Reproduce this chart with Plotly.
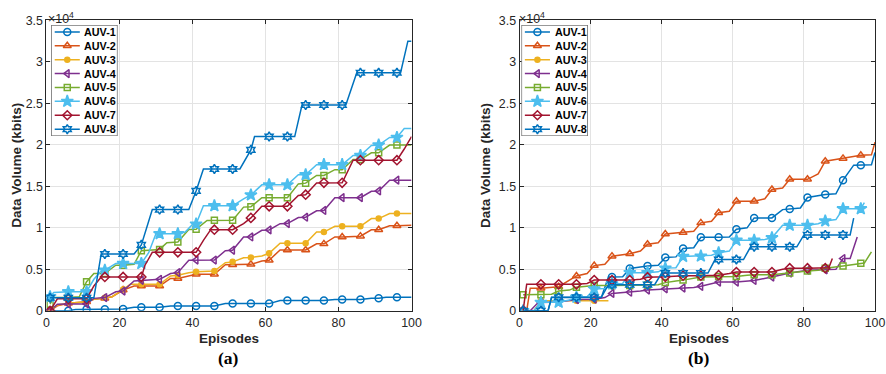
import plotly.graph_objects as go

# ---------------- tick labels ----------------
x_tickvals = [0, 20, 40, 60, 80, 100]
y_tickvals = [0, 5000, 10000, 15000, 20000, 25000, 30000, 35000]
y_ticktext = ["0", "0.5", "1", "1.5", "2", "2.5", "3", "3.5"]

auv_names = ["AUV-1", "AUV-2", "AUV-3", "AUV-4", "AUV-5", "AUV-6", "AUV-7", "AUV-8"]
auv_colors = ["#0072BD", "#D95319", "#EDB120", "#7E2F8E", "#77AC30", "#4DBEEE", "#A2142F", "#0072BD"]
auv_symbols = ["circle-open", "triangle-up-open", "circle", "triangle-left-open",
               "square-open", "star", "diamond-open", "hexagram-open"]
auv_msizes = [7, 7, 5, 7, 6, 9, 7, 7]

# ---------------- panel (a) data: episode, data volume (kbits) ----------------
a1_x = [1, 6, 8, 11, 16, 21, 24, 26, 31, 34, 36, 41, 46, 49, 51, 56, 61, 64, 66, 71, 76, 79, 81, 86, 89, 91, 93, 96, 100]
a1_y = [0, 0, 170, 180, 200, 230, 420, 430, 430, 590, 590, 590, 590, 870, 870, 870, 870, 1240, 1240, 1240, 1240, 1360, 1360, 1360, 1520, 1520, 1650, 1650, 1650]

a2_x = [1, 3, 6, 11, 13, 16, 18, 21, 24, 26, 31, 34, 36, 41, 46, 49, 51, 56, 59, 61, 64, 66, 71, 74, 76, 79, 81, 86, 89, 91, 94, 96, 100]
a2_y = [0, 600, 900, 1100, 1400, 1500, 1700, 2500, 3000, 3000, 3000, 3900, 3900, 4400, 4400, 5550, 5550, 5600, 6000, 6100, 7340, 7340, 7340, 8070, 8070, 8900, 8900, 9000, 9770, 9770, 10260, 10260, 10300]

a3_x = [1, 3, 6, 11, 13, 16, 18, 21, 23, 26, 31, 34, 36, 39, 41, 46, 49, 51, 54, 56, 59, 61, 64, 66, 71, 74, 76, 79, 81, 86, 89, 91, 94, 96, 100]
a3_y = [0, 700, 900, 1100, 1400, 1560, 1700, 2580, 3190, 3190, 3190, 4200, 4300, 4600, 4700, 4800, 5800, 5900, 6400, 6440, 6600, 6930, 8150, 8150, 8150, 9490, 9490, 10180, 10180, 10180, 11120, 11120, 11730, 11730, 11730]

a4_x = [1, 3, 6, 11, 13, 16, 19, 21, 24, 26, 31, 34, 36, 39, 41, 46, 49, 51, 54, 56, 59, 61, 64, 66, 69, 71, 74, 76, 79, 81, 86, 89, 91, 94, 96, 100]
a4_y = [0, 800, 830, 830, 1500, 1600, 2300, 2380, 3600, 3680, 3800, 4500, 4600, 6100, 6120, 6120, 7250, 7300, 8900, 8900, 9700, 9750, 10500, 10510, 11250, 11280, 12050, 12100, 13640, 13640, 13640, 14400, 14450, 15750, 15750, 15750]

a5_x = [1, 2, 6, 9, 11, 13, 16, 19, 21, 24, 26, 31, 33, 36, 39, 41, 44, 46, 51, 54, 56, 59, 61, 66, 69, 71, 74, 76, 79, 81, 84, 86, 89, 91, 94, 96, 100]
a5_y = [800, 1600, 1600, 1700, 3500, 4500, 4500, 5500, 5500, 5600, 7250, 7400, 8200, 8300, 9800, 9830, 10900, 10910, 10910, 12500, 12540, 13640, 13640, 13640, 15300, 15390, 16320, 16320, 17010, 17010, 18230, 18230, 19040, 19040, 19980, 19980, 19980]

a6_x = [1, 2, 6, 11, 13, 15, 16, 19, 21, 26, 28, 30, 31, 36, 38, 40, 41, 43, 46, 51, 54, 56, 59, 61, 66, 69, 71, 74, 76, 81, 84, 86, 89, 91, 94, 96, 98, 100]
a6_y = [1700, 2200, 2300, 2300, 3800, 4800, 4900, 5700, 5700, 5700, 7000, 9290, 9290, 9290, 9500, 10400, 10450, 12660, 12660, 12660, 13500, 13960, 15180, 15180, 15180, 16400, 16400, 17620, 17620, 17620, 18720, 18720, 19940, 19980, 20900, 20900, 21970, 21970]

a7_x = [1, 3, 6, 11, 13, 15, 16, 21, 26, 27, 29, 31, 36, 41, 43, 45, 46, 51, 54, 56, 59, 61, 66, 69, 71, 74, 76, 81, 84, 86, 91, 96, 98, 100]
a7_y = [0, 1440, 1440, 1440, 3000, 4080, 4080, 4080, 4080, 5500, 7050, 7050, 7050, 7050, 8500, 9780, 9780, 9780, 10500, 11200, 12600, 12600, 12600, 13900, 14000, 15400, 15430, 15430, 18150, 18150, 18150, 18150, 19500, 21000]

a8_x = [1, 6, 11, 13, 15, 16, 21, 24, 26, 29, 31, 36, 39, 41, 43, 46, 51, 53, 56, 57, 61, 66, 68, 70, 71, 76, 81, 82, 85, 86, 91, 96, 97, 99, 100]
a8_y = [1570, 1570, 1570, 1570, 6850, 6850, 6850, 6850, 7950, 12200, 12200, 12200, 12200, 14450, 17100, 17100, 17100, 17100, 19400, 21000, 21000, 21000, 21000, 24800, 24800, 24800, 24800, 24800, 28700, 28700, 28700, 28700, 28700, 32500, 32500]

# ---------------- panel (b) data ----------------
b1_x = [1, 6, 8, 9, 11, 16, 21, 23, 25, 26, 29, 31, 36, 39, 41, 44, 46, 49, 51, 56, 59, 61, 64, 66, 71, 74, 76, 79, 81, 86, 89, 91, 94, 96, 99, 100]
b1_y = [0, 0, 0, 1600, 1600, 1600, 1600, 1600, 4070, 4070, 4100, 5100, 5410, 5500, 6420, 6500, 7520, 7600, 8860, 8860, 8900, 9840, 10000, 11200, 11200, 12200, 12280, 12400, 13660, 14020, 14100, 15750, 17560, 17560, 17600, 19100]

b2_x = [1, 2, 3, 6, 11, 14, 16, 19, 21, 24, 26, 31, 34, 36, 39, 41, 46, 49, 51, 54, 56, 59, 61, 66, 69, 71, 74, 76, 81, 84, 86, 91, 96, 99, 100]
b2_y = [0, 0, 2720, 2720, 2900, 3700, 4200, 4500, 5450, 5600, 6590, 6870, 7200, 8030, 8200, 9250, 9430, 9600, 10600, 10800, 11830, 12000, 13210, 13210, 13500, 14630, 14800, 15850, 15850, 16500, 18030, 18370, 18740, 18800, 20330]

b3_x = [1, 4, 6, 11, 16, 21, 25]
b3_y = [0, 0, 1220, 1220, 1220, 1220, 1220]

b4_x = [1, 3, 5, 6, 11, 14, 16, 21, 24, 26, 31, 34, 36, 41, 46, 49, 51, 54, 56, 61, 64, 66, 71, 76, 81, 86, 89, 91, 93, 95]
b4_y = [0, 0, 900, 1000, 1050, 1200, 1350, 1400, 1600, 2100, 2240, 2400, 2500, 2650, 2750, 2800, 2950, 3300, 3460, 3460, 3600, 3660, 4070, 4550, 4880, 4950, 5000, 6300, 6300, 8900]

b5_x = [1, 6, 9, 11, 14, 16, 21, 26, 31, 36, 39, 41, 44, 46, 51, 54, 56, 61, 64, 66, 71, 74, 76, 81, 84, 86, 91, 96, 97, 99]
b5_y = [1950, 1950, 2000, 2380, 2500, 2850, 3050, 3050, 3050, 3100, 3150, 3400, 3600, 3700, 4070, 4100, 4150, 4150, 4300, 4350, 4350, 4500, 4550, 4800, 4900, 5120, 5390, 5730, 5750, 7110]

b6_x = [1, 4, 6, 11, 14, 16, 19, 21, 24, 26, 29, 31, 36, 39, 41, 44, 46, 51, 54, 56, 59, 61, 66, 69, 71, 74, 76, 81, 84, 86, 89, 91, 96, 97]
b6_y = [0, 0, 1020, 1020, 1300, 1630, 1700, 2640, 2700, 3250, 3300, 4600, 4600, 4700, 5150, 5200, 6550, 6590, 6700, 7010, 7200, 8500, 8500, 8600, 8800, 10300, 10300, 10300, 10500, 10830, 11000, 12300, 12300, 13050]

b7_x = [1, 2, 6, 11, 16, 19, 21, 26, 31, 34, 36, 41, 44, 46, 51, 54, 56, 59, 61, 66, 71, 74, 76, 81, 86, 87, 88]
b7_y = [0, 3200, 3200, 3200, 3200, 3300, 3700, 3700, 3700, 3800, 4050, 4100, 4200, 4230, 4230, 4300, 4300, 4500, 4670, 4670, 4670, 5000, 5140, 5140, 5140, 5200, 6300]

b8_x = [1, 6, 8, 9, 11, 16, 21, 23, 25, 26, 31, 36, 38, 40, 41, 46, 51, 53, 55, 56, 61, 63, 65, 66, 71, 76, 78, 80, 81, 86, 91, 93, 94]
b8_y = [0, 0, 0, 1630, 1630, 1630, 1630, 1630, 3150, 3150, 3150, 3150, 3150, 4550, 4550, 4550, 4550, 4550, 6180, 6180, 6180, 6180, 7720, 7720, 7720, 7720, 7720, 9150, 9150, 9150, 9150, 9150, 11180]

panel_a = [(a1_x, a1_y), (a2_x, a2_y), (a3_x, a3_y), (a4_x, a4_y),
           (a5_x, a5_y), (a6_x, a6_y), (a7_x, a7_y), (a8_x, a8_y)]
panel_b = [(b1_x, b1_y), (b2_x, b2_y), (b3_x, b3_y), (b4_x, b4_y),
           (b5_x, b5_y), (b6_x, b6_y), (b7_x, b7_y), (b8_x, b8_y)]

FONT = "Liberation Sans, Arial, Helvetica, sans-serif"
SERIF = "Liberation Serif, Times New Roman, serif"
AX = "#262626"
W, H = 886, 374


# layout placement helpers: target picture pixel -> page pixel (compensates the capture framing)
def px(v):
    return min(max((v - 2.6) / 0.985, 0), W - 1)


def py(v):
    return min(max((v - 9.2) / 0.953, 0), H)


def fx(v):
    return px(v) / W


def fy(v):
    return 1 - py(v) / H


fig = go.Figure()


def add_panel(panel, xref, yref):
    for i, (xs, ys) in enumerate(panel):
        marker_idx = [k for k, v in enumerate(xs) if (v - 1) % 5 == 0]
        fig.add_trace(go.Scatter(
            x=xs, y=ys, mode="lines+markers", name=auv_names[i], showlegend=False,
            xaxis=xref, yaxis=yref,
            line=dict(color=auv_colors[i], width=1.5),
            marker=dict(symbol=auv_symbols[i], size=auv_msizes[i], color=auv_colors[i],
                        line=dict(color=auv_colors[i], width=1.5)),
            selectedpoints=marker_idx,
            selected=dict(marker=dict(opacity=1)),
            unselected=dict(marker=dict(opacity=0)),
            hoverinfo="skip",
        ))


add_panel(panel_a, "x", "y")
add_panel(panel_b, "x2", "y2")

# ---------------- legend boxes (MATLAB-style, compact rows) ----------------
legend_boxes = [("x3", "y3"), ("x4", "y4")]
annotations = []
for xa, ya in legend_boxes:
    fig.add_trace(go.Scatter(
        x=[0, 1, 1, 0, 0], y=[-0.5, -0.5, 7.5, 7.5, -0.5], mode="lines", fill="toself",
        fillcolor="white", line=dict(color=AX, width=1), showlegend=False, hoverinfo="skip",
        xaxis=xa, yaxis=ya, cliponaxis=False,
    ))
    for i, name in enumerate(auv_names):
        fig.add_trace(go.Scatter(
            x=[0.05, 0.24, 0.43], y=[i, i, i], mode="lines+markers", showlegend=False,
            xaxis=xa, yaxis=ya, hoverinfo="skip",
            line=dict(color=auv_colors[i], width=1.5),
            marker=dict(symbol=auv_symbols[i], size=auv_msizes[i], color=auv_colors[i],
                        line=dict(color=auv_colors[i], width=1.5)),
            selectedpoints=[1], selected=dict(marker=dict(opacity=1)),
            unselected=dict(marker=dict(opacity=0)),
        ))
        annotations.append(dict(text=name, x=0.47, y=i, xref=xa, yref=ya, xanchor="left",
                                yanchor="middle", showarrow=False,
                                font=dict(family=FONT, size=10.8, color="black", weight="bold")))

xaxis_common = dict(range=[0, 100], tickvals=x_tickvals, showline=True, linecolor=AX, linewidth=1,
                    mirror="ticks", ticks="inside", ticklen=4, tickcolor=AX, showgrid=True,
                    gridcolor="#e3e3e3", gridwidth=1, zeroline=False,
                    tickfont=dict(family=FONT, size=12.4, color=AX))
yaxis_common = dict(range=[0, 35000], tickvals=y_tickvals, ticktext=y_ticktext, showline=True, linecolor=AX,
                    linewidth=1, mirror="ticks", ticks="inside", ticklen=4, tickcolor=AX, showgrid=True,
                    gridcolor="#e3e3e3", gridwidth=1, zeroline=False,
                    tickfont=dict(family=FONT, size=12.4, color=AX))
hidden_common = dict(visible=False, showgrid=False, zeroline=False, fixedrange=True)

plot_ydom = [fy(310), fy(22.5)]
leg_ydom = [fy(137), fy(27)]

title_font = dict(family=FONT, size=13.5, color=AX, weight="bold")
for cx, ylab_x, left, lab in [(228.5, 16, 46, "(a)"), (698, 485, 516, "(b)")]:
    annotations += [
        dict(text="Episodes", x=fx(cx), y=fy(337), xref="paper", yref="paper",
             xanchor="center", yanchor="middle", showarrow=False, font=title_font),
        dict(text="Data Volume (kbits)", x=fx(ylab_x), y=fy(166), xref="paper", yref="paper",
             xanchor="center", yanchor="middle", showarrow=False, textangle=-90, font=title_font),
        dict(text="×10<sup>4</sup>", x=fx(left), y=fy(10), xref="paper", yref="paper",
             xanchor="left", yanchor="top", showarrow=False, font=dict(family=FONT, size=12.4, color=AX)),
        dict(text="<b>" + lab + "</b>", x=fx(cx), y=fy(357), xref="paper", yref="paper",
             xanchor="center", yanchor="middle", showarrow=False,
             font=dict(family=SERIF, size=17.5, color="black")),
    ]

fig.update_layout(
    width=W, height=H, plot_bgcolor="white", paper_bgcolor="white",
    margin=dict(l=0, r=0, t=0, b=0), showlegend=False,
    xaxis=dict(domain=[fx(46), fx(411)], anchor="y", **xaxis_common),
    yaxis=dict(domain=plot_ydom, anchor="x", **yaxis_common),
    xaxis2=dict(domain=[fx(519), fx(886)], anchor="y2", **xaxis_common),
    yaxis2=dict(domain=plot_ydom, anchor="x2", **yaxis_common),
    xaxis3=dict(domain=[fx(51), fx(117)], anchor="y3", range=[0, 1], **hidden_common),
    yaxis3=dict(domain=leg_ydom, anchor="x3", range=[7.5, -0.5], **hidden_common),
    xaxis4=dict(domain=[fx(521), fx(587)], anchor="y4", range=[0, 1], **hidden_common),
    yaxis4=dict(domain=leg_ydom, anchor="x4", range=[7.5, -0.5], **hidden_common),
    annotations=annotations,
)

fig.write_html("out.html", config={"displayModeBar": False},
               post_script="document.body.style.margin='0px';document.body.style.overflow='hidden';")
